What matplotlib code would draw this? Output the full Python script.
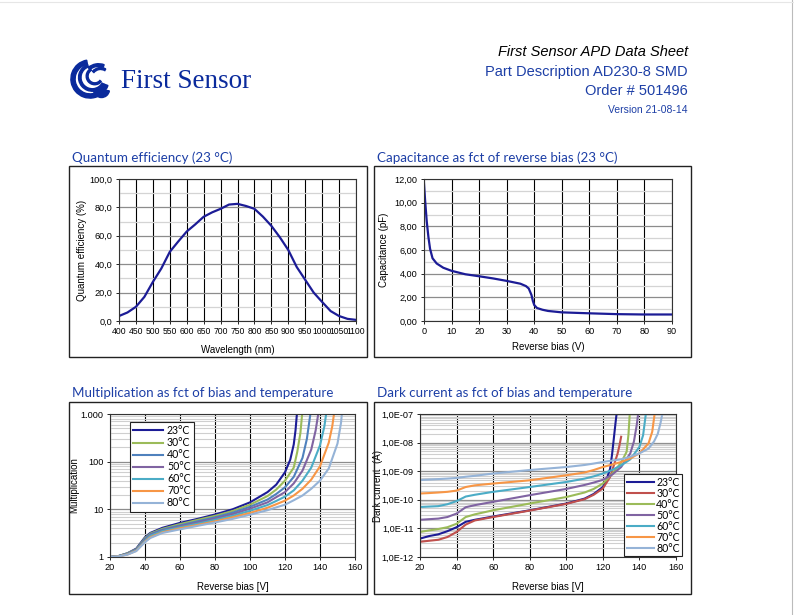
import matplotlib
matplotlib.use("Agg")
import matplotlib.pyplot as plt
from matplotlib.patches import Rectangle, Wedge
from matplotlib.lines import Line2D
from matplotlib.ticker import FixedLocator, LogLocator, NullFormatter, FuncFormatter

# ---- data ----
QE_WL = [400, 425, 450, 475, 500, 525, 550, 575, 600, 625, 650, 675, 700, 725, 750,
         775, 800, 825, 850, 875, 900, 925, 950, 975, 1000, 1025, 1050, 1075, 1100]
QE_PCT = [3.5, 6, 10, 17, 27.5, 37, 48.7, 56, 63, 68, 73.4, 76.5, 79, 82, 82.5,
          81, 79, 73.5, 67, 59, 50, 38, 29, 20, 13.4, 7, 3.5, 1.5, 0.8]

CAP_BIAS = [0, 0.4, 1, 1.6, 2.2, 3.1, 4.6, 7, 10, 15, 20, 25, 30, 35, 37, 38, 39,
            39.5, 40, 41, 43, 45, 50, 60, 70, 80, 90]
CAP_PF = [11.6, 10.2, 8.4, 7.1, 6.1, 5.3, 4.86, 4.5, 4.24, 3.95, 3.78, 3.6, 3.39, 3.15,
          2.95, 2.75, 2.2, 1.7, 1.35, 1.1, 0.95, 0.85, 0.73, 0.65, 0.58, 0.55, 0.55]

TEMPS = ['23°C', '30°C', '40°C', '50°C', '60°C', '70°C', '80°C']

M_BIAS = [20, 25, 30, 35, 40, 43, 50, 60, 70, 80, 90, 100, 110, 115, 120]
M23_X = M_BIAS + [123, 125, 126, 126.8]
M23 = [1.0, 1.05, 1.2, 1.5, 2.6, 3.2, 4.1, 5.2, 6.3, 7.8, 10, 14, 23, 33, 60,
       110, 230, 450, 1000]
M30_X = M_BIAS + [125, 127, 128.8, 129.8]
M30 = [1.0, 1.05, 1.2, 1.45, 2.5, 3.1, 3.9, 4.9, 6.0, 7.3, 9.2, 12.5, 19, 26, 40,
       75, 160, 400, 1000]
M40_X = M_BIAS + [125, 130, 132.5, 134.5]
M40 = [1.0, 1.05, 1.18, 1.42, 2.4, 3.0, 3.75, 4.6, 5.6, 6.8, 8.5, 11.3, 16, 21, 29,
       48, 120, 300, 1000]
M50_X = M_BIAS + [125, 130, 135, 137.5, 139]
M50 = [1.0, 1.04, 1.17, 1.4, 2.3, 2.9, 3.6, 4.4, 5.3, 6.4, 7.9, 10.3, 14, 18, 23,
       35, 65, 180, 450, 1000]
M60_X = M_BIAS + [125, 130, 135, 140, 142.5, 143.5]
M60 = [1.0, 1.04, 1.15, 1.38, 2.2, 2.8, 3.5, 4.2, 5.0, 6.0, 7.3, 9.3, 12.3, 15, 18.5,
       25, 40, 75, 220, 550, 1000]
M70_X = M_BIAS + [125, 130, 135, 140, 145, 147, 148]
M70 = [1.0, 1.03, 1.13, 1.35, 2.1, 2.6, 3.3, 4.0, 4.7, 5.6, 6.8, 8.4, 10.8, 12.8, 15.2,
       19.5, 27, 42, 80, 250, 550, 1000]
M80_X = M_BIAS + [125, 130, 135, 140, 145, 150, 152, 152.5]
M80 = [1.0, 1.03, 1.12, 1.33, 2.05, 2.5, 3.2, 3.8, 4.5, 5.3, 6.3, 7.7, 9.6, 11, 12.5,
       15.5, 19.5, 27, 40, 72, 240, 650, 1000]

D_BIAS = [20, 25, 30, 35, 40, 45, 50, 60, 80, 100, 110, 115, 120]
D23_X = D_BIAS + [122, 124, 125, 126, 127, 127.5]
D23 = [4.4e-12, 5.4e-12, 6.2e-12, 8e-12, 1.1e-11, 1.7e-11, 2.0e-11, 2.6e-11, 4.3e-11,
       7.4e-11, 1.1e-10, 1.6e-10, 2.8e-10, 5e-10, 1.25e-9, 3.7e-9, 1.4e-8, 5.4e-8, 1e-7]
D30_X = D_BIAS + [124, 126, 128, 129, 130]
D30 = [3.4e-12, 3.7e-12, 4.0e-12, 5e-12, 7.5e-12, 1.36e-11, 1.9e-11, 2.5e-11, 4.2e-11,
       7.2e-11, 1.05e-10, 1.5e-10, 2.5e-10, 6.3e-10, 1.6e-9, 4.0e-9, 7.5e-9, 1.6e-8]
D40_X = D_BIAS + [125, 130, 133, 134, 134.7]
D40 = [7.5e-12, 8.5e-12, 9.5e-12, 1.1e-11, 1.45e-11, 2.5e-11, 3.1e-11, 4.3e-11, 7.4e-11,
       1.25e-10, 1.8e-10, 2.4e-10, 3.7e-10, 8e-10, 2.0e-9, 4.8e-9, 1.9e-8, 1e-7]
D50_X = D_BIAS + [125, 130, 135, 137, 138.5, 139.3]
D50 = [2.0e-11, 2.1e-11, 2.2e-11, 2.5e-11, 3.3e-11, 5.5e-11, 6.5e-11, 8.5e-11, 1.45e-10,
       2.4e-10, 3.3e-10, 4e-10, 5e-10, 7.5e-10, 1.4e-9, 4.2e-9, 1.1e-8, 4e-8, 1e-7]
D60_X = D_BIAS + [125, 130, 135, 140, 142, 143.5]
D60 = [5.6e-11, 5.8e-11, 6e-11, 7e-11, 9e-11, 1.3e-10, 1.5e-10, 1.9e-10, 2.8e-10,
       4.2e-10, 5.5e-10, 6.6e-10, 8.3e-10, 1.1e-9, 1.6e-9, 2.6e-9, 7.1e-9, 1.8e-8, 1e-7]
D70_X = D_BIAS + [125, 130, 135, 140, 145, 147, 148.3]
D70 = [1.66e-10, 1.72e-10, 1.8e-10, 1.9e-10, 2.1e-10, 2.8e-10, 3.2e-10, 3.7e-10, 4.8e-10,
       7.2e-10, 9e-10, 1.1e-9, 1.4e-9, 1.7e-9, 2.1e-9, 2.8e-9, 4.2e-9, 9.5e-9, 2.4e-8, 1e-7]
D80_X = D_BIAS + [125, 130, 135, 140, 145, 148, 150, 151.5, 152.5]
D80 = [4.9e-10, 5.1e-10, 5.3e-10, 5.5e-10, 5.8e-10, 6.4e-10, 6.9e-10, 8.3e-10, 1.1e-9,
       1.4e-9, 1.65e-9, 1.85e-9, 2.1e-9, 2.35e-9, 2.6e-9, 3.2e-9, 4.2e-9, 6.2e-9, 1.1e-8,
       2e-8, 4.7e-8, 1e-7]

NAVY = '#1c1c96'
BLUE_TXT = '#1d3fa6'
MULT_COLORS = ['#1c1c96', '#9bbb59', '#4f81bd', '#8064a2', '#4bacc6', '#f79646', '#95b3d7']
DARK_COLORS = ['#1c1c96', '#c0504d', '#9bbb59', '#8064a2', '#4bacc6', '#f79646', '#95b3d7']

W, H = 794, 615
LABEL_FONT = dict(family='Liberation Sans', size=7)


def fig_rect(x0, y0, x1, y1):
    """Pixel box (top-left origin) -> figure fraction [l, b, w, h]."""
    return [x0 / W, 1 - y1 / H, (x1 - x0) / W, (y1 - y0) / H]


def style_axes(ax, tick_size=6.6):
    for s in ax.spines.values():
        s.set_color('#333333')
        s.set_linewidth(0.8)
    ax.tick_params(which='major', direction='out', length=2.5, width=0.6, pad=2,
                   labelsize=tick_size, colors='black')
    ax.tick_params(which='minor', length=0)
    for lab in ax.get_xticklabels() + ax.get_yticklabels():
        lab.set_fontfamily('Liberation Sans')
    ax.set_axisbelow(True)


fig = plt.figure(figsize=(W / 100, H / 100), dpi=100)

# page edge
fig.add_artist(Line2D([792 / W, 792 / W], [0, 1], transform=fig.transFigure,
                      color='#bbbbbb', lw=0.8))
fig.add_artist(Line2D([0, 1], [1 - 1.5 / H, 1 - 1.5 / H], transform=fig.transFigure,
                      color='#e6e6e6', lw=0.8))

# ---- header ----
logo = fig.add_axes(fig_rect(69, 58, 111, 100))
logo.set_xlim(-1.1, 1.1)
logo.set_ylim(-1.1, 1.1)
logo.set_aspect('equal')
logo.axis('off')
LOGO_C = '#0a2a9c'
logo.add_patch(Wedge((0, 0), 1.0, 100, 340, width=0.22, color=LOGO_C))
logo.add_patch(Wedge((0.12, 0.08), 0.72, 110, 330, width=0.13, color=LOGO_C))
logo.add_patch(Wedge((0.25, 0.15), 0.45, 120, 320, width=0.1, color=LOGO_C))
logo.add_patch(Wedge((0.45, -0.05), 0.85, 70, 130, width=0.14, color=LOGO_C))
logo.add_patch(Wedge((0.55, 0.05), 0.55, 60, 140, width=0.1, color=LOGO_C))
logo.add_patch(Wedge((0.6, -0.55), 0.42, 190, 350, width=0.42, color=LOGO_C))

fig.text(121 / W, 1 - 81 / H, 'First Sensor', family='Liberation Serif', size=19.5,
         color=LOGO_C, va='center', ha='left')
fig.text(688 / W, 1 - 52 / H, 'First Sensor APD Data Sheet', family='Liberation Sans',
         style='italic', size=10.5, color='black', ha='right', va='center')
fig.text(688 / W, 1 - 72 / H, 'Part Description AD230-8 SMD', family='Liberation Sans',
         size=10.5, color=BLUE_TXT, ha='right', va='center')
fig.text(688 / W, 1 - 91 / H, 'Order # 501496', family='Liberation Sans',
         size=10.5, color=BLUE_TXT, ha='right', va='center')
fig.text(688 / W, 1 - 110 / H, 'Version 21-08-14', family='Liberation Sans',
         size=7.5, color=BLUE_TXT, ha='right', va='center')

# ---- panel frames and titles ----
for (x0, y0, x1, y1) in [(69, 166, 367, 357), (374, 166, 691, 357),
                         (69, 402, 367, 594), (374, 402, 691, 594)]:
    l, b, w, h = fig_rect(x0, y0, x1, y1)
    fig.add_artist(Rectangle((l, b), w, h, transform=fig.transFigure, fill=False,
                             edgecolor='#222222', lw=1.0))

TITLE_KW = dict(family='Lato', size=9.6, color=BLUE_TXT, ha='left', va='center')
fig.text(72 / W, 1 - 158 / H, 'Quantum efficiency (23 °C)', **TITLE_KW)
fig.text(377 / W, 1 - 158 / H, 'Capacitance as fct of reverse bias (23 °C)', **TITLE_KW)
fig.text(72 / W, 1 - 393 / H, 'Multiplication as fct of bias and temperature', **TITLE_KW)
fig.text(377 / W, 1 - 393 / H, 'Dark current as fct of bias and temperature', **TITLE_KW)

# ---- quantum efficiency ----
ax1 = fig.add_axes(fig_rect(119, 179, 356, 321))
ax1.plot(QE_WL, QE_PCT, color=NAVY, lw=1.6)
ax1.set_xlim(400, 1100)
ax1.set_ylim(0, 100)
ax1.set_xticks(range(400, 1101, 50))
ax1.set_yticks(range(0, 101, 20))
ax1.yaxis.set_minor_locator(FixedLocator(range(10, 100, 20)))
ax1.yaxis.set_major_formatter(FuncFormatter(lambda v, p: f'{v:.1f}'.replace('.', ',')))
ax1.grid(axis='x', which='major', color='black', lw=0.8)
ax1.grid(axis='y', which='major', color='#8c8c8c', lw=0.9)
ax1.grid(axis='y', which='minor', color='#d4d4d4', lw=0.9)
ax1.set_xlabel('Wavelength (nm)', labelpad=6, **LABEL_FONT)
ax1.set_ylabel('Quantum efficiency (%)', labelpad=2, **LABEL_FONT)
style_axes(ax1)
ax1.tick_params(axis='x', labelsize=6.2)

# ---- capacitance ----
ax2 = fig.add_axes(fig_rect(424, 179, 672, 321))
ax2.plot(CAP_BIAS, CAP_PF, color=NAVY, lw=1.6)
ax2.set_xlim(0, 90)
ax2.set_ylim(0, 12)
ax2.set_xticks(range(0, 91, 10))
ax2.set_yticks(range(0, 13, 2))
ax2.yaxis.set_minor_locator(FixedLocator(range(1, 12, 2)))
ax2.yaxis.set_major_formatter(FuncFormatter(lambda v, p: f'{v:.2f}'.replace('.', ',')))
ax2.grid(axis='x', which='major', color='black', lw=0.8)
ax2.grid(axis='y', which='major', color='#8c8c8c', lw=0.9)
ax2.grid(axis='y', which='minor', color='#d4d4d4', lw=0.9)
ax2.set_xlabel('Reverse bias (V)', labelpad=4, **LABEL_FONT)
ax2.set_ylabel('Capacitance (pF)', labelpad=4, **LABEL_FONT)
style_axes(ax2)

# ---- multiplication ----
ax3 = fig.add_axes(fig_rect(110, 414, 355, 557))
mult_series = [(M23_X, M23), (M30_X, M30), (M40_X, M40), (M50_X, M50),
               (M60_X, M60), (M70_X, M70), (M80_X, M80)]
for (xs, ys), lab, c in zip(mult_series, TEMPS, MULT_COLORS):
    ax3.plot(xs, ys, color=c, lw=1.5, label=lab)
ax3.set_yscale('log')
ax3.set_xlim(20, 160)
ax3.set_ylim(1, 1000)
ax3.set_xticks(range(20, 161, 20))
ax3.set_yticks([1, 10, 100, 1000])
ax3.set_yticklabels(['1', '10', '100', '1.000'])
ax3.yaxis.set_minor_locator(LogLocator(base=10, subs=range(2, 10)))
ax3.yaxis.set_minor_formatter(NullFormatter())
ax3.grid(axis='x', which='major', color='black', lw=0.8)
ax3.grid(axis='y', which='major', color='#8c8c8c', lw=0.9)
ax3.grid(axis='y', which='minor', color='#cfcfcf', lw=0.8)
ax3.set_xlabel('Reverse bias [V]', labelpad=7, **LABEL_FONT)
ax3.set_ylabel('Multiplication', labelpad=1, **LABEL_FONT)
style_axes(ax3)
leg3 = ax3.legend(loc='upper left', bbox_to_anchor=(130 / W, 1 - 422 / H),
                  bbox_transform=fig.transFigure, frameon=True, fancybox=False,
                  edgecolor='#222222', framealpha=1, prop=dict(family='Lato', size=7.6),
                  handlelength=2.8, handletextpad=0.4, labelspacing=0.1,
                  borderpad=0.3, borderaxespad=0)
leg3.get_frame().set_linewidth(0.8)

# ---- dark current ----
ax4 = fig.add_axes(fig_rect(420, 414, 676, 557))
dark_series = [(D23_X, D23), (D30_X, D30), (D40_X, D40), (D50_X, D50),
               (D60_X, D60), (D70_X, D70), (D80_X, D80)]
for (xs, ys), lab, c in zip(dark_series, TEMPS, DARK_COLORS):
    ax4.plot(xs, ys, color=c, lw=1.5, label=lab)
ax4.set_yscale('log')
ax4.set_xlim(20, 160)
ax4.set_ylim(1e-12, 1e-7)
ax4.set_xticks(range(20, 161, 20))
ax4.set_yticks([1e-12, 1e-11, 1e-10, 1e-9, 1e-8, 1e-7])
ax4.set_yticklabels(['1,0E-12', '1,0E-11', '1,0E-10', '1,0E-09', '1,0E-08', '1,0E-07'])
ax4.yaxis.set_minor_locator(LogLocator(base=10, subs=range(2, 10)))
ax4.yaxis.set_minor_formatter(NullFormatter())
ax4.grid(axis='x', which='major', color='black', lw=0.8)
ax4.grid(axis='y', which='major', color='#8c8c8c', lw=0.9)
ax4.grid(axis='y', which='minor', color='#cfcfcf', lw=0.8)
ax4.set_xlabel('Reverse bias [V]', labelpad=7, **LABEL_FONT)
ax4.set_ylabel('Dark current  (A)', labelpad=-1, **LABEL_FONT)
style_axes(ax4)
leg4 = ax4.legend(loc='upper left', bbox_to_anchor=(624 / W, 1 - 474 / H),
                  bbox_transform=fig.transFigure, frameon=True, fancybox=False,
                  edgecolor='#222222', framealpha=1, prop=dict(family='Lato', size=7.6),
                  handlelength=2.6, handletextpad=0.2, labelspacing=0.0,
                  borderpad=0.25, borderaxespad=0)
leg4.get_frame().set_linewidth(0.8)

fig.savefig('out.png', dpi=100)
